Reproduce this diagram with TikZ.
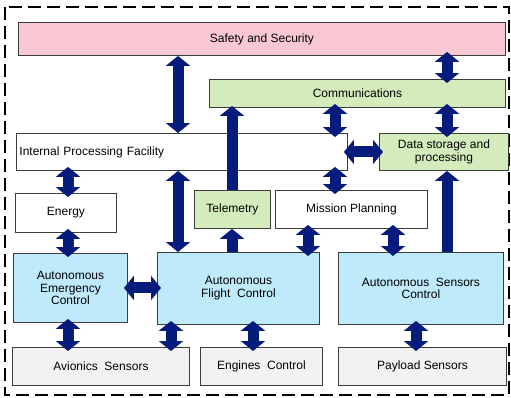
\documentclass[tikz,border=0pt]{standalone}
\usepackage{fontspec}
\setmainfont{Liberation Sans}
\usetikzlibrary{arrows.meta}
\definecolor{pinkf}{RGB}{249,200,210}
\definecolor{greenf}{RGB}{212,235,188}
\definecolor{bluef}{RGB}{190,234,251}
\definecolor{grayf}{RGB}{242,242,242}
\definecolor{navy}{RGB}{5,28,125}
\definecolor{edge}{RGB}{60,60,60}
\tikzset{
  box/.style={draw=edge, line width=0.9pt, anchor=north west, inner sep=0pt, align=center,
    font=\fontsize{12}{12.7}\selectfont},
  tip/.style={Triangle[width=24pt,length=10pt]},
  dbl/.style={navy, line width=11pt, {Triangle[width=24pt,length=10pt]}-{Triangle[width=24pt,length=10pt]}},
  sgl/.style={navy, line width=11pt, -{Triangle[width=24pt,length=10pt]}},
  ext/.style={shorten <=-4pt, shorten >=-4pt},
}
\newcommand{\bx}[7]{\node[box, fill=#6, minimum width={#4-#2}, minimum height={#5-#3}] (#1) at (#2,#3) {#7};}
\begin{document}
\begin{tikzpicture}[x=1pt,y=-1pt]
\useasboundingbox (0,0) rectangle (511,397);
\draw[line width=2pt, dash pattern=on 13pt off 6pt] (5,7) rectangle (509,395);
% boxes
\bx{safety}{18}{22}{505}{55}{pinkf}{Safety and Security}
\bx{comm}{209}{79}{505}{107}{greenf}{Communications}
\node[box, fill=white, minimum width=331, minimum height=37, text width=325, align=left] (internal) at (16,133) {Internal Processing Facility};
\bx{data}{379}{133}{508}{170}{greenf}{Data storage and\\processing}
\bx{energy}{15}{193}{116}{232}{white}{Energy}
\bx{telem}{194}{190}{270}{228}{greenf}{Telemetry}
\bx{mission}{275}{190}{427}{228}{white}{Mission Planning}
\bx{emerg}{13}{253}{127}{322}{bluef}{Autonomous\\Emergency\\Control}
\bx{flight}{157}{252}{319}{324}{bluef}{Autonomous\\Flight\ \ Control}
\bx{sensors}{338}{252}{503}{324}{bluef}{Autonomous\ \ Sensors\\Control}
\bx{avionics}{12}{347}{189}{385}{grayf}{Avionics\ \ Sensors}
\bx{engines}{200}{347}{322}{385}{grayf}{Engines\ \ Control}
\bx{payload}{338}{347}{506}{385}{grayf}{Payload Sensors}
% arrows
\draw[dbl] (safety.south -| 178,0) -- (internal.north -| 178,0);
\draw[dbl,ext] (safety.south -| 447,0) -- (comm.north -| 447,0);
\draw[sgl,shorten >=-2pt] (telem.north -| 232,0) -- (comm.south -| 232,0);
\draw[dbl,ext] (comm.south -| 335,0) -- (internal.north -| 335,0);
\draw[dbl,ext] (comm.south -| 447,0) -- (data.north -| 447,0);
\draw[dbl,ext] (internal.east) -- (data.west);
\draw[dbl,ext] (internal.south -| 68,0) -- (energy.north -| 68,0);
\draw[dbl] (internal.south -| 178,0) -- (flight.north -| 178,0);
\draw[dbl,ext] (internal.south -| 335,0) -- (mission.north -| 335,0);
\draw[dbl,ext] (energy.south -| 68,0) -- (emerg.north -| 68,0);
\draw[sgl] (flight.north -| 232,0) -- (telem.south -| 232,0);
\draw[dbl,ext] (mission.south -| 308,0) -- (flight.north -| 308,0);
\draw[dbl,ext] (mission.south -| 393,0) -- (sensors.north -| 393,0);
\draw[sgl] (sensors.north -| 447,0) -- (data.south -| 447,0);
\draw[dbl,ext] (emerg.east) -- (emerg.east -| flight.west);
\draw[dbl,ext] (emerg.south -| 68,0) -- (avionics.north -| 68,0);
\draw[dbl,ext] (flight.south -| 171,0) -- (avionics.north -| 171,0);
\draw[dbl,ext] (flight.south -| 253,0) -- (engines.north -| 253,0);
\draw[dbl,ext] (sensors.south -| 416,0) -- (payload.north -| 416,0);
\end{tikzpicture}
\end{document}
